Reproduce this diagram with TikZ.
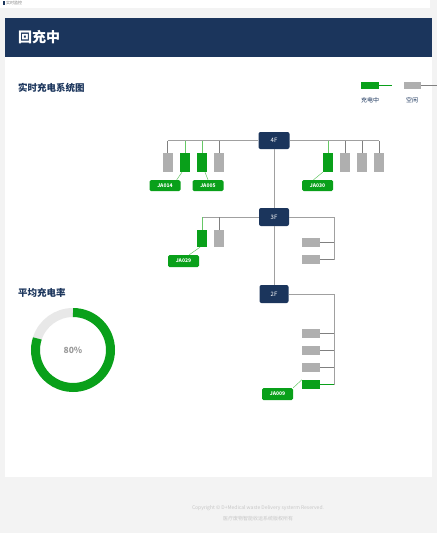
\documentclass[tikz,border=0pt]{standalone}
\usepackage{fontspec}
\setmainfont{Noto Sans CJK SC}
\definecolor{navy}{HTML}{1B355C}
\definecolor{okgreen}{HTML}{09A01A}
\definecolor{lgreen}{HTML}{66C866}
\definecolor{idle}{HTML}{AFAFAF}
\definecolor{busc}{HTML}{A0A0A0}
\definecolor{pagebg}{HTML}{F3F3F3}
\definecolor{ringgray}{HTML}{E8E8E8}
\tikzset{
  vslot/.style={minimum width=10pt, minimum height=19pt, inner sep=0pt, draw=none},
  hslot/.style={minimum width=18pt, minimum height=9pt, inner sep=0pt, draw=none},
  busy/.style={fill=okgreen},
  free/.style={fill=idle},
  floor/.style={fill=navy, rounded corners=2pt, minimum width=31pt, minimum height=17pt, inner sep=0pt, text=white, font=\fontsize{6}{7}\selectfont},
  tag/.style={fill=okgreen, rounded corners=1.5pt, minimum width=31pt, minimum height=11pt, inner sep=0pt, text=white, font=\bfseries\fontsize{5}{6}\selectfont},
  bus/.style={draw=busc, line width=0.9pt},
  gwire/.style={draw=lgreen, line width=0.9pt},
  dwire/.style={draw=gray, line width=0.9pt},
  taglink/.style={draw=lgreen, line width=0.5pt},
  title/.style={anchor=west, text=navy, font=\bfseries\fontsize{9.5}{11}\selectfont, inner sep=0pt}
}
\begin{document}
\begin{tikzpicture}[x=1pt,y=-1pt]
\useasboundingbox (0,0) rectangle (437,533);
\fill[pagebg] (0,0) rectangle (437,533);
% top strip
\fill[white] (0,0) rectangle (430,8);
\fill[navy] (3,0.5) rectangle (4.5,5);
\node[anchor=west, text=gray, font=\fontsize{4}{5}\selectfont, inner sep=0pt] (crumb) at (6,3) {实时监控};
% card
\fill[white] (5,57) rectangle (432,477);
\fill[navy] (5,18) rectangle (432,57);
\node[anchor=west, text=white, font=\bfseries\fontsize{14}{16}\selectfont, inner sep=0pt] (head) at (18,37.5) {回充中};
\node[title] (t1) at (18,88) {实时充电系统图};
\node[title] (t2) at (18,293) {平均充电率};

% legend
\node[busy, minimum width=18pt, minimum height=7pt, inner sep=0pt] (lg) at (370,85.5) {};
\coordinate (lge) at (392,85.5);
\draw[draw=okgreen, line width=0.8pt] (lg.east) -- (lge);
\node[free, minimum width=17pt, minimum height=7pt, inner sep=0pt] (li) at (412.5,85.5) {};
\coordinate (lie) at (437,85.5);
\draw[draw=gray, line width=0.8pt] (li.east) -- (lie);
\node[text=navy, font=\fontsize{6}{7}\selectfont, inner sep=0pt] (lgt) at (370,100) {充电中};
\node[text=navy, font=\fontsize{6}{7}\selectfont, inner sep=0pt] (lit) at (412,100) {空闲};

% floors
\node[floor] (f4) at (274,140.5) {4F};
\node[floor, minimum width=30pt, minimum height=18pt] (f3) at (274,217) {3F};
\node[floor, minimum width=29pt, minimum height=18pt] (f2) at (274,294) {2F};
\draw[bus] (f4.south) -- (f3.north);
\draw[bus] (f3.south) -- (f2.north);

% 4F slots
\node[vslot, free] (s4a) at (167.5,162.5) {};
\node[vslot, busy] (s4b) at (185,162.5) {};
\node[vslot, busy] (s4c) at (202,162.5) {};
\node[vslot, free] (s4d) at (219,162.5) {};
\node[vslot, busy] (s4e) at (328,162.5) {};
\node[vslot, free] (s4f) at (345,162.5) {};
\node[vslot, free] (s4g) at (362,162.5) {};
\node[vslot, free] (s4h) at (379,162.5) {};
\draw[bus] (s4a.north |- f4.west) -- (f4.west);
\draw[bus] (f4.east) -- (s4h.north |- f4.east);
\draw[dwire] (s4a.north) -- (s4a.north |- f4.west);
\draw[gwire] (s4b.north) -- (s4b.north |- f4.west);
\draw[gwire] (s4c.north) -- (s4c.north |- f4.west);
\draw[dwire] (s4d.north) -- (s4d.north |- f4.west);
\draw[gwire] (s4e.north) -- (s4e.north |- f4.east);
\draw[dwire] (s4f.north) -- (s4f.north |- f4.east);
\draw[dwire] (s4g.north) -- (s4g.north |- f4.east);
\draw[dwire] (s4h.north) -- (s4h.north |- f4.east);
\node[tag] (t014) at (165,185.5) {JA014};
\node[tag] (t005) at (208,185.5) {JA005};
\node[tag] (t030) at (317.5,185.5) {JA030};
\draw[taglink] ([xshift=-3pt]s4b.south) -- ([xshift=-4pt]t014.north east);
\draw[taglink] ([xshift=3pt]s4c.south) -- (t005.north);
\draw[taglink] (s4e.south west) -- ([xshift=-4pt]t030.north);

% 3F slots
\node[vslot, busy, minimum height=17pt] (s3a) at (202,238.5) {};
\node[vslot, free, minimum height=17pt] (s3b) at (219,238.5) {};
\node[hslot, free] (h3a) at (311,242.5) {};
\node[hslot, free] (h3b) at (311,259.5) {};
\coordinate (r3) at (334,217);
\draw[bus] (s3a.north |- f3.west) -- (f3.west);
\draw[bus] (f3.east) -- (r3) -- (r3 |- h3b.east);
\draw[gwire] (s3a.north) -- (s3a.north |- f3.west);
\draw[dwire] (s3b.north) -- (s3b.north |- f3.west);
\draw[dwire] (h3a.east) -- (h3a.east -| r3);
\draw[dwire] (h3b.east) -- (h3b.east -| r3);
\node[tag, minimum height=12pt] (t029) at (183.5,261) {JA029};
\draw[taglink] ([xshift=-2pt]s3a.south) -- ([xshift=-10pt]t029.north east);

% 2F slots
\node[hslot, free] (h2a) at (311,333.5) {};
\node[hslot, free] (h2b) at (311,350.5) {};
\node[hslot, free] (h2c) at (311,367.5) {};
\node[hslot, busy] (h2d) at (311,384.5) {};
\coordinate (r2) at (334,294);
\draw[bus] (f2.east) -- (r2) -- (r2 |- h2d.east);
\draw[dwire] (h2a.east) -- (h2a.east -| r2);
\draw[dwire] (h2b.east) -- (h2b.east -| r2);
\draw[dwire] (h2c.east) -- (h2c.east -| r2);
\draw[draw=okgreen, line width=0.9pt] (h2d.east) -- (h2d.east -| r2);
\node[tag, minimum height=12pt] (t009) at (277.5,394) {JA009};
\draw[taglink] (h2d.north west) -- (t009.north east);

% donut
\coordinate (dc) at (73,350);
\draw[ringgray, line width=9pt] (dc) ++(198:37.5) arc[start angle=198, end angle=270, radius=37.5];
\draw[okgreen, line width=9pt] (dc) ++(270:37.5) arc[start angle=270, end angle=558, radius=37.5];
\node[text=gray!80, font=\bfseries\fontsize{8.5}{10}\selectfont] (pct) at (dc) {80\%};

% footer
\node[text=black!22, font=\fontsize{5}{6}\selectfont, inner sep=0pt] (copy) at (258,508) {Copyright © D+Medical waste Delivery systerm Reserved.};
\node[text=black!22, font=\fontsize{5}{6}\selectfont, inner sep=0pt] (corp) at (258,519) {医疗废物智能收运系统版权所有};
\end{tikzpicture}
\end{document}
